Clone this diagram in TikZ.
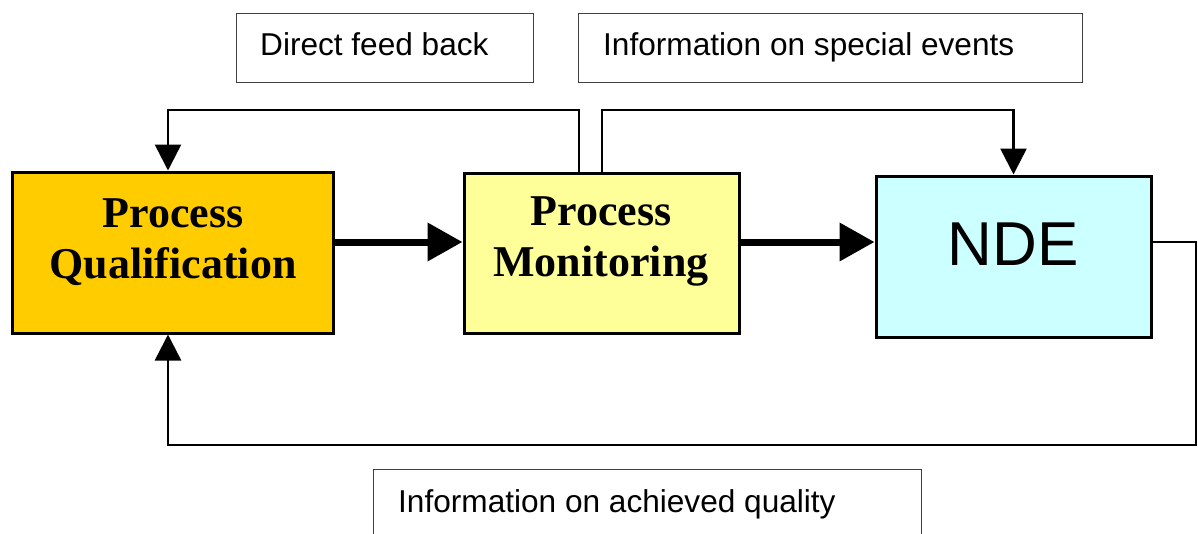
\documentclass[tikz,border=0pt]{standalone}
\usepackage{fontspec}
\setmainfont{Liberation Serif}
\newfontfamily\arialf{Liberation Sans}
\usetikzlibrary{arrows.meta}
\definecolor{pqcol}{HTML}{FFCC00}
\definecolor{pmcol}{HTML}{FFFF99}
\definecolor{ndecol}{HTML}{CCFFFF}
\tikzset{
  mainbox/.style={draw=black, line width=3pt, rectangle, inner sep=0pt},
  labelbox/.style={draw=black!75, line width=1.3pt, rectangle, inner sep=0pt, anchor=north west},
  labeltext/.style={anchor=base west, inner sep=0pt, font=\arialf\fontsize{31.6}{36}\selectfont},
  boldtext/.style={inner sep=0pt, align=center, font=\bfseries\fontsize{44}{51}\selectfont},
  thickarrow/.style={line width=7pt, -{Triangle[length=35pt, width=37pt]}},
  fbline/.style={line width=2.5pt, line join=miter},
  fbarrow/.style={fbline, -{Triangle[length=26pt, width=26pt]}},
}
\begin{document}
\begin{tikzpicture}[x=1pt, y=-1pt]
\useasboundingbox (0,0) rectangle (1198,533);
\clip (0,0) rectangle (1198,533);
% main boxes
\node[mainbox, fill=pqcol, minimum width=321pt, minimum height=161pt] (pq) at (172.5,252.5) {};
\node[mainbox, fill=pmcol, minimum width=275pt, minimum height=160pt] (pm) at (601.5,253) {};
\node[mainbox, fill=ndecol, minimum width=275pt, minimum height=161pt] (nde) at (1013.5,256.5) {};
\node[boldtext] (pqt) at (173,242) {Process\\Qualification};
\node[boldtext] (pmt) at (601,241) {Process\\Monitoring};
\node[inner sep=0pt, anchor=base, font=\arialf\fontsize{62}{70}\selectfont] (ndet) at (1013,265) {NDE};
% label boxes
\node[labelbox, minimum width=297pt, minimum height=69pt] (l1) at (236,13) {};
\node[labeltext] (l1t) at (260,55) {Direct feed back};
\node[labelbox, minimum width=504pt, minimum height=69pt] (l2) at (578,13) {};
\node[labeltext] (l2t) at (603,55) {Information on special events};
\node[labelbox, minimum width=548pt, minimum height=80pt] (l3) at (373,469) {};
\node[labeltext] (l3t) at (398,512) {Information on achieved quality};
% helper coordinates
\coordinate (ya) at (0,242);
\coordinate (qx) at (168,0);
\coordinate (t1) at (579,110);
\coordinate (t2) at (602,110);
\coordinate (b) at (1196,445);
% main flow
\draw[thickarrow] (pq.east |- ya) -- (pm.west |- ya);
\draw[thickarrow] (pm.east |- ya) -- (nde.west |- ya);
% feedback loops
\draw[fbarrow] (t1 |- pm.north) -- (t1) -| (qx |- pq.north);
\draw[fbarrow] (t2 |- pm.north) -- (t2) -| (nde.north);
\draw[fbarrow] (nde.east |- ya) -| (b) -| (qx |- pq.south);
\end{tikzpicture}
\end{document}
